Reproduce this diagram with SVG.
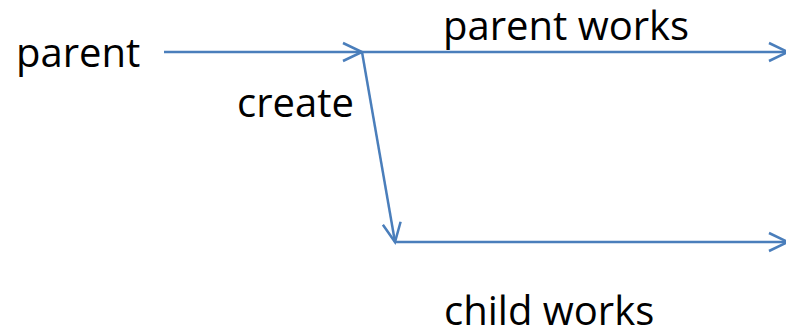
<svg xmlns="http://www.w3.org/2000/svg" width="786" height="334" viewBox="0 0 786 334">
<style>
.t{font-family:"Open Sans","Liberation Sans",sans-serif;font-size:40px;fill:#000}
.c{stroke:#4A7EBB;stroke-width:2.5;fill:none}
</style>
<defs>
<marker id="ah" markerUnits="userSpaceOnUse" viewBox="-22 -12 24 24" refX="0" refY="0" markerWidth="24" markerHeight="24" orient="auto" overflow="visible">
<path d="M-19,-9 L0,0 L-19,9" fill="none" stroke="#4A7EBB" stroke-width="2.5"/>
</marker>
</defs>
<rect width="786" height="334" fill="#fff"/>
<g id="connectors">
<line class="c" x1="164" y1="52" x2="362" y2="52" marker-end="url(#ah)"/>
<line class="c" x1="362" y1="52" x2="788" y2="52" marker-end="url(#ah)"/>
<line class="c" x1="362" y1="52" x2="395" y2="242" marker-end="url(#ah)"/>
<line class="c" x1="395" y1="242" x2="788" y2="242" marker-end="url(#ah)"/>
</g>
<g id="parent"><text class="t" x="16" y="67">parent</text></g>
<g id="parent-works"><text class="t" x="443" y="40">parent works</text></g>
<g id="create"><text class="t" x="237" y="117">create</text></g>
<g id="child-works"><text class="t" x="444" y="325">child works</text></g>
</svg>
